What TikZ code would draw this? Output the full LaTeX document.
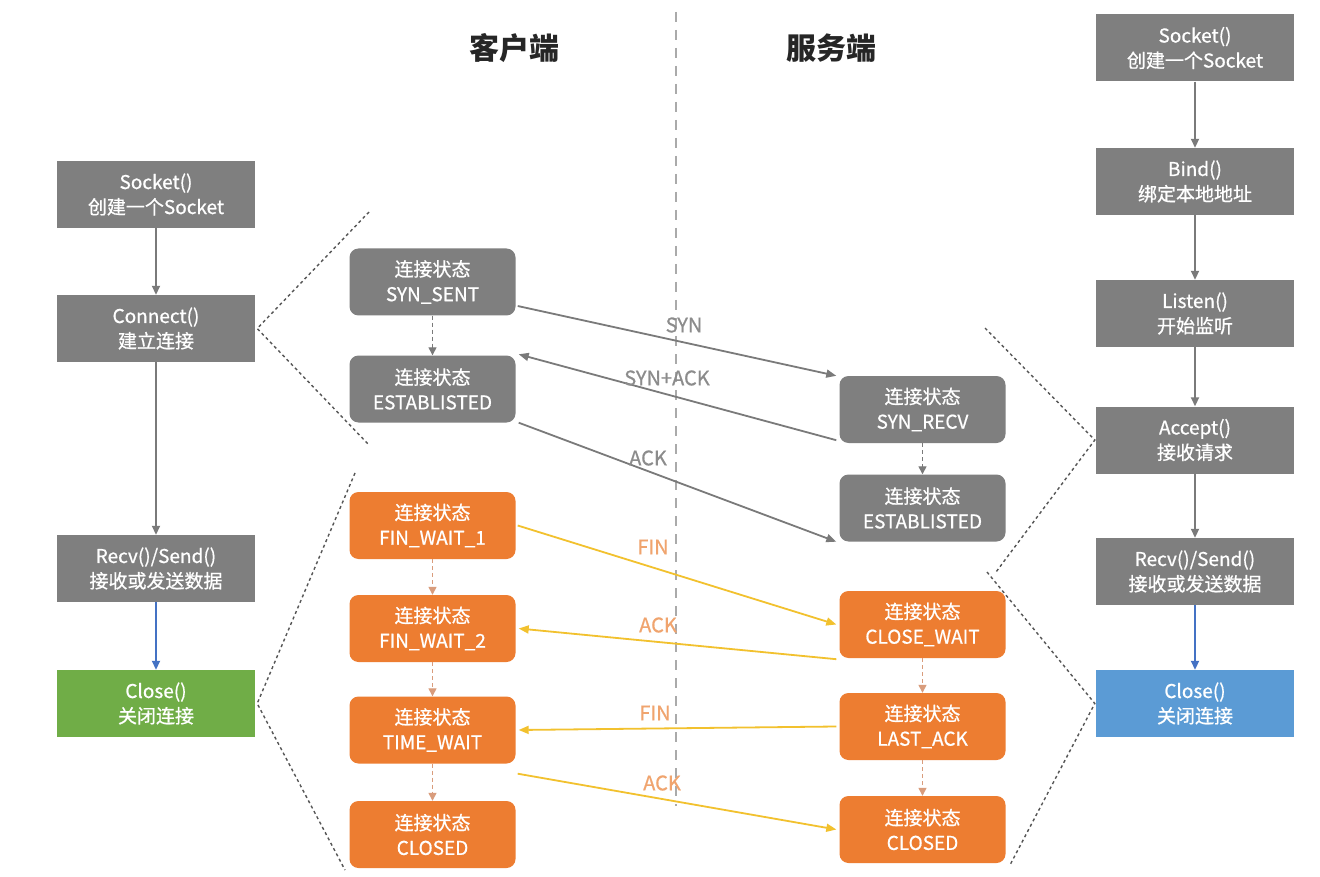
\documentclass[tikz,border=0pt]{standalone}
\usepackage{fontspec}
\setmainfont{Noto Sans CJK SC}
\newfontfamily\semibold{Noto Sans CJK SC}[FakeBold=0.7]
\usetikzlibrary{arrows.meta,calc}
\definecolor{boxgray}{HTML}{7F7F7F}
\definecolor{boxorange}{HTML}{ED7D31}
\definecolor{boxgreen}{HTML}{70AD47}
\definecolor{boxblue}{HTML}{5B9BD5}
\definecolor{arrgray}{HTML}{7A7A7A}
\definecolor{arrblue}{HTML}{4472C4}
\definecolor{arryellow}{HTML}{F2C12E}
\definecolor{lblorange}{HTML}{F0A46E}
\definecolor{lblgray}{HTML}{8C8C8C}
\definecolor{dashorange}{HTML}{D99C7C}
\definecolor{zoomline}{HTML}{555555}
\definecolor{divgray}{HTML}{AAAAAA}
\tikzset{
  apibox/.style={draw=none, minimum width=198pt, minimum height=67pt, inner sep=0pt,
    align=center, text=white, font=\semibold\fontsize{19}{25}\selectfont},
  graybox/.style={apibox, fill=boxgray},
  greenbox/.style={apibox, fill=boxgreen},
  bluebox/.style={apibox, fill=boxblue},
  statebox/.style={draw=none, rounded corners=9pt, minimum width=166pt, minimum height=67pt,
    inner sep=0pt, align=center, text=white, font=\semibold\fontsize{19}{25}\selectfont},
  gstate/.style={statebox, fill=boxgray},
  ostate/.style={statebox, fill=boxorange},
  flow/.style={draw=arrgray, line width=1.8pt, -{Triangle[length=9pt,width=8pt]}},
  blueflow/.style={draw=arrblue, line width=1.8pt, -{Triangle[length=9pt,width=8pt]}},
  gstep/.style={draw=arrgray, line width=1.3pt, dash pattern=on 4pt off 3pt, -{Triangle[length=8pt,width=8pt]}},
  ostep/.style={draw=dashorange, line width=1.3pt, dash pattern=on 4pt off 3pt, -{Triangle[length=8pt,width=8pt]}},
  gmsg/.style={draw=arrgray, line width=1.8pt, -{Triangle[length=10pt,width=8pt]}},
  ymsg/.style={draw=arryellow, line width=1.8pt, -{Triangle[length=10pt,width=8pt]}},
  glabel/.style={text=lblgray, font=\semibold\fontsize{20}{22}\selectfont, inner sep=0pt},
  olabel/.style={text=lblorange, font=\semibold\fontsize{20}{22}\selectfont, inner sep=0pt},
  zoomdash/.style={draw=zoomline, line width=1.4pt, dash pattern=on 3pt off 3pt},
  divider/.style={draw=divgray, line width=2pt, dash pattern=on 10pt off 8pt},
  header/.style={font=\fontsize{30}{32}\selectfont\bfseries, text=black!85}
}
\begin{document}
\begin{tikzpicture}[x=1pt,y=-1pt]
\useasboundingbox[fill=white] (0,0) rectangle (1320,877);

% headers and divider
\node[header] (hclient) at (514,48) {客户端};
\node[header] (hserver) at (831,48) {服务端};
\coordinate (vtop) at (676,12);
\coordinate (vbot) at (676,806);
\draw[divider] (vtop) -- (vbot);

% client API column
\node[graybox] (csocket) at (156,194.5) {Socket()\\创建一个Socket};
\node[graybox] (cconnect) at (156,328.5) {Connect()\\建立连接};
\node[graybox] (crecv) at (156,568.5) {Recv()/Send()\\接收或发送数据};
\node[greenbox] (cclose) at (156,703.5) {Close()\\关闭连接};
\draw[flow] (csocket) -- (cconnect);
\draw[flow] (cconnect) -- (crecv);
\draw[blueflow] (crecv) -- (cclose);

% server API column
\node[graybox] (ssocket) at (1195,48) {Socket()\\创建一个Socket};
\node[graybox] (sbind) at (1195,181.5) {Bind()\\绑定本地地址};
\node[graybox] (slisten) at (1195,313.5) {Listen()\\开始监听};
\node[graybox] (saccept) at (1195,440) {Accept()\\接收请求};
\node[graybox] (srecv) at (1195,571.5) {Recv()/Send()\\接收或发送数据};
\node[bluebox] (sclose) at (1195,703.5) {Close()\\关闭连接};
\draw[flow] (ssocket) -- (sbind);
\draw[flow] (sbind) -- (slisten);
\draw[flow] (slisten) -- (saccept);
\draw[flow] (saccept) -- (srecv);
\draw[blueflow] (srecv) -- (sclose);

% client states
\node[gstate] (synsent) at (432.5,282) {连接状态\\SYN\_SENT};
\node[gstate] (cest) at (432.5,389) {连接状态\\ESTABLISTED};
\node[ostate] (fw1) at (432.5,525.5) {连接状态\\FIN\_WAIT\_1};
\node[ostate] (fw2) at (432.5,628.5) {连接状态\\FIN\_WAIT\_2};
\node[ostate] (tw) at (432.5,730) {连接状态\\TIME\_WAIT};
\node[ostate] (cclosed) at (432.5,834.5) {连接状态\\CLOSED};
\draw[gstep] (synsent) -- (cest);
\draw[ostep] (fw1) -- (fw2);
\draw[ostep] (fw2) -- (tw);
\draw[ostep] (tw) -- (cclosed);

% server states
\node[gstate] (synrecv) at (922.5,409.5) {连接状态\\SYN\_RECV};
\node[gstate] (sest) at (922.5,508) {连接状态\\ESTABLISTED};
\node[ostate] (cw) at (922.5,624.5) {连接状态\\CLOSE\_WAIT};
\node[ostate] (la) at (922.5,726.5) {连接状态\\LAST\_ACK};
\node[ostate] (sclosed) at (922.5,829.5) {连接状态\\CLOSED};
\draw[gstep] (synrecv) -- (sest);
\draw[ostep] (cw) -- (la);
\draw[ostep] (la) -- (sclosed);

% handshake messages
\draw[gmsg] ([xshift=2pt,yshift=-24pt]synsent.east) -- ([xshift=-3pt]synrecv.north west);
\draw[gmsg] ([xshift=-3pt,yshift=3pt]synrecv.south west) -- ([xshift=3pt,yshift=1pt]cest.north east);
\draw[gmsg] ([xshift=3pt]cest.south east) -- ([xshift=-3pt]sest.south west);
\node[glabel] (lsyn) at (684,325) {SYN};
\node[glabel] (lsynack) at (667,378) {SYN+ACK};
\node[glabel] (lack1) at (648,458) {ACK};

% teardown messages
\draw[ymsg] ([xshift=2pt]fw1.east) -- ([xshift=-3pt]cw.west);
\draw[ymsg] ([xshift=-3pt,yshift=-1pt]cw.south west) -- ([xshift=3pt]fw2.east);
\draw[ymsg] ([xshift=-3pt]la.west) -- ([xshift=3pt]tw.east);
\draw[ymsg] ([xshift=2pt,yshift=-10pt]tw.south east) -- ([xshift=-3pt]sclosed.west);
\node[olabel] (lfin1) at (653,547) {FIN};
\node[olabel] (lack2) at (658,625) {ACK};
\node[olabel] (lfin2) at (655,713) {FIN};
\node[olabel] (lack3) at (662,783) {ACK};

% zoom guide lines
\coordinate (zl1a) at (369,212);
\coordinate (zl1b) at (369,445);
\coordinate (zl2a) at (355,473);
\coordinate (zl2b) at (345,870);
\coordinate (zr1a) at (985,328);
\coordinate (zr1b) at (996,572);
\coordinate (zr2a) at (987,572);
\coordinate (zr2b) at (1010,865);
\draw[zoomdash] (zl1a) -- ([xshift=2pt]cconnect.east) -- (zl1b);
\draw[zoomdash] (zl2a) -- ([xshift=2pt]cclose.east) -- (zl2b);
\draw[zoomdash] (zr1a) -- ([xshift=-1pt]saccept.west) -- (zr1b);
\draw[zoomdash] (zr2a) -- ([xshift=-1pt]sclose.west) -- (zr2b);
\end{tikzpicture}
\end{document}
